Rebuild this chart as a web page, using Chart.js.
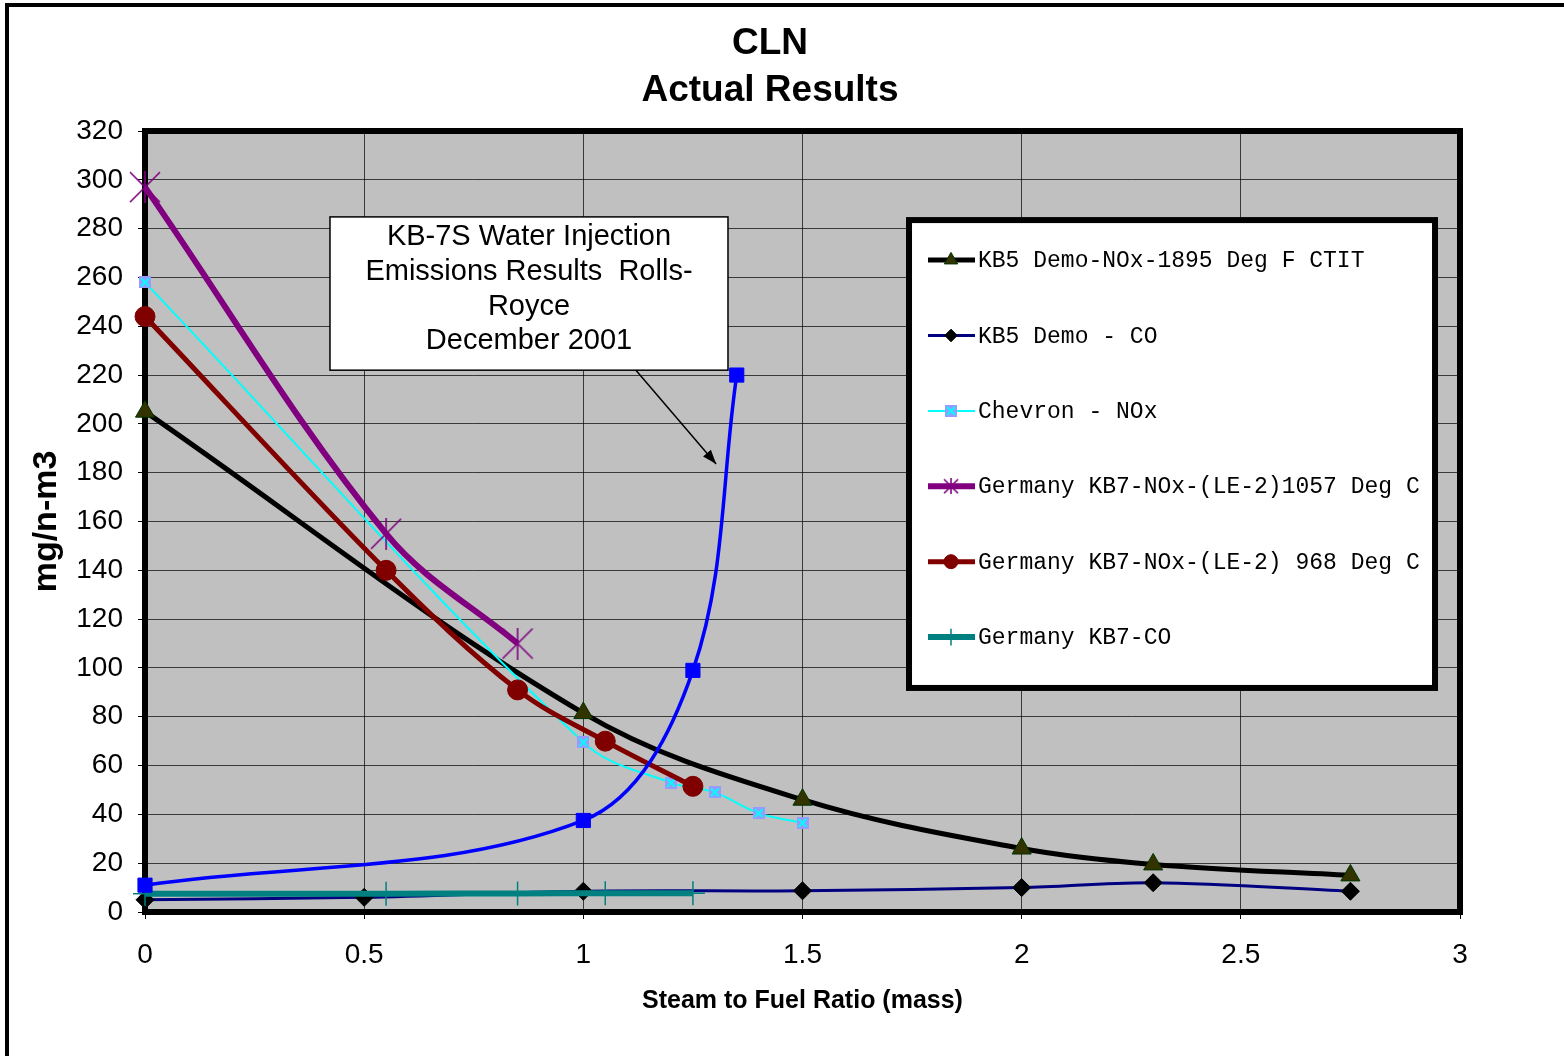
<!DOCTYPE html>
<html>
<head>
<meta charset="utf-8">
<style>
  html, body { margin: 0; padding: 0; background: #fff; }
  canvas { display: block; }
</style>
<script src="https://cdn.jsdelivr.net/npm/chart.js@4.4.1/dist/chart.umd.min.js"></script>
</head>
<body>
<canvas id="myChart" width="1564" height="1056"></canvas>
<script>
// データ
const SERIES_LABELS = [
  'KB5 Demo-NOx-1895 Deg F CTIT',
  'KB5 Demo - CO',
  'Chevron - NOx',
  'Germany KB7-NOx-(LE-2)1057 Deg C',
  'Germany KB7-NOx-(LE-2) 968 Deg C',
  'Germany KB7-CO',
  'KB-7S Water Injection',
];

const KB5_NOX_X = [0, 1, 1.5, 2, 2.3, 2.75];
const KB5_NOX_Y = [205, 81.5, 46, 26, 19.5, 15];

const KB5_CO_X = [0, 0.5, 1, 1.5, 2, 2.3, 2.75];
const KB5_CO_Y = [5, 6, 8.5, 8.7, 10, 12, 8.5];

const CHEVRON_X = [0, 1, 1.2, 1.3, 1.4, 1.5];
const CHEVRON_Y = [258, 69.5, 53, 49, 40.5, 36.5];

const GER_1057_X = [0, 0.55, 0.85];
const GER_1057_Y = [297, 155, 110];

const GER_968_X = [0, 0.55, 0.85, 1.05, 1.25];
const GER_968_Y = [244, 140, 91, 70, 51.5];

const GER_CO_X = [0, 0.55, 0.85, 1.05, 1.25];
const GER_CO_Y = [7.5, 7.5, 7.6, 7.7, 7.7];

const KB7S_X = [0, 1, 1.25, 1.35];
const KB7S_Y = [11, 37.5, 99, 220];

const X_MIN = 0, X_MAX = 3, X_STEP = 0.5;
const Y_MIN = 0, Y_MAX = 320, Y_STEP = 20;

const TITLE_LINES = ['CLN', 'Actual Results'];
const ANNOTATION_LINES = ['KB-7S Water Injection', 'Emissions Results  Rolls-', 'Royce', 'December 2001'];

const SANS = '"Liberation Sans", Arial, sans-serif';
const MONO = '"Liberation Mono", "Courier New", monospace';

// マーカー画像
function makeChevronMarker() {
  const c = document.createElement('canvas');
  c.width = 12; c.height = 12;
  const g = c.getContext('2d');
  g.fillStyle = '#9999FF';
  g.fillRect(0, 0, 12, 12);
  g.strokeStyle = '#00FFFF';
  g.lineWidth = 2;
  g.beginPath();
  g.moveTo(2, 2); g.lineTo(10, 10);
  g.moveTo(10, 2); g.lineTo(2, 10);
  g.stroke();
  return c;
}
function makeStarMarker(size) {
  const c = document.createElement('canvas');
  c.width = size; c.height = size;
  const g = c.getContext('2d');
  g.strokeStyle = '#800080';
  g.lineWidth = 1.6;
  g.beginPath();
  g.moveTo(1, 1); g.lineTo(size - 1, size - 1);
  g.moveTo(size - 1, 1); g.lineTo(1, size - 1);
  g.moveTo(size / 2, 0); g.lineTo(size / 2, size);
  g.stroke();
  return c;
}
const CHEVRON_MARK = makeChevronMarker();
const STAR_MARK = makeStarMarker(32);
const STAR_MARK_SMALL = makeStarMarker(16);

function toPoints(xs, ys) {
  return xs.map((x, i) => ({ x: x, y: ys[i] }));
}

function series(i, xs, ys, style) {
  return Object.assign({
    label: SERIES_LABELS[i],
    data: toPoints(xs, ys),
    showLine: true,
    tension: 0.35,
    clip: false,
    order: 10 - i,
  }, style);
}

const datasets = [
  series(0, KB5_NOX_X, KB5_NOX_Y, {
    borderColor: '#000000', borderWidth: 5,
    pointStyle: 'triangle', pointRadius: 11,
    pointBackgroundColor: '#333300', pointBorderColor: '#003300', pointBorderWidth: 1,
  }),
  series(1, KB5_CO_X, KB5_CO_Y, {
    borderColor: '#000080', borderWidth: 3,
    pointStyle: 'rectRot', pointRadius: 9,
    pointBackgroundColor: '#000000', pointBorderColor: '#000000', pointBorderWidth: 1,
  }),
  series(2, CHEVRON_X, CHEVRON_Y, {
    borderColor: '#00FFFF', borderWidth: 2,
    pointStyle: CHEVRON_MARK, pointRadius: 6,
  }),
  series(3, GER_1057_X, GER_1057_Y, {
    borderColor: '#800080', borderWidth: 6,
    pointStyle: STAR_MARK, pointRadius: 15,
  }),
  series(4, GER_968_X, GER_968_Y, {
    borderColor: '#800000', borderWidth: 5,
    pointStyle: 'circle', pointRadius: 10,
    pointBackgroundColor: '#800000', pointBorderColor: '#800000', pointBorderWidth: 1,
  }),
  series(5, GER_CO_X, GER_CO_Y, {
    borderColor: '#008080', borderWidth: 6,
    pointStyle: 'cross', pointRadius: 12,
    pointBorderColor: '#008080', pointBorderWidth: 1.5,
  }),
  series(6, KB7S_X, KB7S_Y, {
    borderColor: '#0000FF', borderWidth: 3.5,
    pointStyle: 'rect', pointRadius: 10,
    pointBackgroundColor: '#0000FF', pointBorderColor: '#0000FF', pointBorderWidth: 1,
    order: 0,
  }),
];

// 凡例に載せる系列
const LEGEND_SERIES = [0, 1, 2, 3, 4, 5];
const LEGEND_MARKS = { 2: CHEVRON_MARK, 3: STAR_MARK_SMALL };

function drawMarker(ctx, ds, x, y, idx) {
  const img = LEGEND_MARKS[idx];
  if (img) {
    ctx.drawImage(img, x - img.width / 2, y - img.height / 2);
    return;
  }
  ctx.save();
  ctx.fillStyle = ds.pointBackgroundColor || ds.borderColor;
  ctx.strokeStyle = ds.pointBorderColor || ds.borderColor;
  ctx.lineWidth = ds.pointBorderWidth || 1;
  Chart.helpers.drawPoint(ctx, {
    pointStyle: ds.pointStyle,
    radius: ds.pointRadius * 0.7,
    rotation: 0,
    borderWidth: ds.pointBorderWidth || 1,
  }, x, y);
  ctx.restore();
}

const framePlugin = {
  id: 'framePlugin',
  beforeDraw(chart) {
    const { ctx, chartArea: a } = chart;
    ctx.save();
    ctx.fillStyle = '#000';
    ctx.fillRect(5, 3, 4, chart.height);
    ctx.fillRect(5, 3, chart.width, 4);
    ctx.fillStyle = '#C0C0C0';
    ctx.fillRect(a.left, a.top, a.right - a.left, a.bottom - a.top);
    // タイトル
    ctx.fillStyle = '#000';
    ctx.font = 'bold 37px ' + SANS;
    ctx.textAlign = 'center';
    ctx.textBaseline = 'middle';
    TITLE_LINES.forEach((t, i) => ctx.fillText(t, 770, 44 + i * 47));
    ctx.restore();
  },
  beforeDatasetsDraw(chart) {
    const { ctx, chartArea: a } = chart;
    ctx.save();
    ctx.strokeStyle = '#000';
    ctx.lineWidth = 6;
    ctx.strokeRect(a.left, a.top, a.right - a.left, a.bottom - a.top);
    ctx.restore();
  },
  afterDatasetsDraw(chart) {
    const { ctx } = chart;
    const xs = chart.scales.x, ys = chart.scales.y;

    // 注記ボックス
    const bx0 = xs.getPixelForValue(0.422), bx1 = xs.getPixelForValue(1.33);
    const by0 = ys.getPixelForValue(284.8), by1 = ys.getPixelForValue(222);
    ctx.save();
    ctx.fillStyle = '#fff';
    ctx.fillRect(bx0, by0, bx1 - bx0, by1 - by0);
    ctx.strokeStyle = '#000';
    ctx.lineWidth = 1.5;
    ctx.strokeRect(bx0, by0, bx1 - bx0, by1 - by0);
    ctx.fillStyle = '#000';
    ctx.font = '29px ' + SANS;
    ctx.textAlign = 'center';
    ctx.textBaseline = 'middle';
    ANNOTATION_LINES.forEach((t, i) => {
      ctx.fillText(t, (bx0 + bx1) / 2, by0 + 20 + i * 34.8);
    });
    // 矢印
    const ax0 = xs.getPixelForValue(1.12), ay0 = ys.getPixelForValue(222);
    const ax1 = xs.getPixelForValue(1.303), ay1 = ys.getPixelForValue(183.6);
    ctx.lineWidth = 1.5;
    ctx.beginPath();
    ctx.moveTo(ax0, ay0);
    ctx.lineTo(ax1, ay1);
    ctx.stroke();
    const ang = Math.atan2(ay1 - ay0, ax1 - ax0);
    ctx.beginPath();
    ctx.moveTo(ax1, ay1);
    ctx.lineTo(ax1 - 15 * Math.cos(ang - 0.35), ay1 - 15 * Math.sin(ang - 0.35));
    ctx.lineTo(ax1 - 15 * Math.cos(ang + 0.35), ay1 - 15 * Math.sin(ang + 0.35));
    ctx.closePath();
    ctx.fill();
    ctx.restore();

    // 凡例
    const lx0 = xs.getPixelForValue(1.743), lx1 = xs.getPixelForValue(2.943);
    const ly0 = ys.getPixelForValue(283.5), ly1 = ys.getPixelForValue(91.8);
    ctx.save();
    ctx.fillStyle = '#fff';
    ctx.fillRect(lx0, ly0, lx1 - lx0, ly1 - ly0);
    ctx.strokeStyle = '#000';
    ctx.lineWidth = 6;
    ctx.strokeRect(lx0, ly0, lx1 - lx0, ly1 - ly0);
    ctx.font = '23px ' + MONO;
    ctx.textBaseline = 'middle';
    ctx.textAlign = 'left';
    LEGEND_SERIES.forEach((idx, row) => {
      const ds = chart.data.datasets[idx];
      const y = ly0 + 40 + row * 75.4;
      ctx.strokeStyle = ds.borderColor;
      ctx.lineWidth = ds.borderWidth;
      ctx.beginPath();
      ctx.moveTo(lx0 + 19, y);
      ctx.lineTo(lx0 + 66, y);
      ctx.stroke();
      drawMarker(ctx, ds, lx0 + 42, y, idx);
      ctx.fillStyle = '#000';
      ctx.fillText(ds.label, lx0 + 69, y + 1);
    });
    ctx.restore();
  },
};

const ctx = document.getElementById('myChart').getContext('2d');

new Chart(ctx, {
  type: 'scatter',
  data: { datasets: datasets },
  options: {
    responsive: false,
    animation: false,
    devicePixelRatio: 1,
    layout: { padding: { left: 0, right: 104, top: 131, bottom: 0 } },
    plugins: {
      legend: { display: false },
      tooltip: { enabled: false },
      title: { display: false },
    },
    scales: {
      x: {
        type: 'linear',
        min: X_MIN, max: X_MAX,
        ticks: {
          stepSize: X_STEP, color: '#000', padding: 19,
          font: { family: SANS, size: 28 },
          callback: (v) => String(v),
        },
        grid: { color: 'rgba(0,0,0,0.7)', lineWidth: 1, tickLength: 7, tickColor: '#000' },
        border: { display: false },
        title: {
          display: true,
          text: 'Steam to Fuel Ratio (mass)',
          color: '#000',
          font: { family: SANS, size: 25, weight: 'bold', lineHeight: 1.2 },
          padding: { top: 0, bottom: 40 },
        },
        afterFit(scale) { scale.height = 144; },
      },
      y: {
        type: 'linear',
        min: Y_MIN, max: Y_MAX,
        ticks: { stepSize: Y_STEP, color: '#000', padding: 15, font: { family: SANS, size: 28 } },
        grid: { color: 'rgba(0,0,0,0.7)', lineWidth: 1, tickLength: 7, tickColor: '#000' },
        border: { display: false },
        title: {
          display: true,
          text: 'mg/n-m3',
          color: '#000',
          font: { family: SANS, size: 34, weight: 'bold', lineHeight: 1.2 },
          padding: { top: 26.6, bottom: 0 },
        },
        afterFit(scale) { scale.width = 145; },
      },
    },
  },
  plugins: [framePlugin],
});
</script>
</body>
</html>
